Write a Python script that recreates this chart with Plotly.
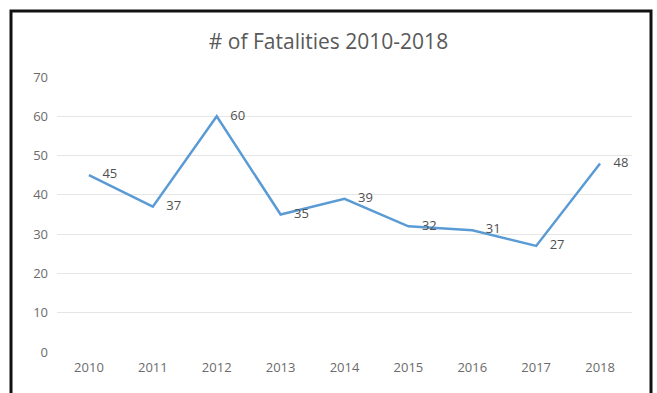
import plotly.graph_objects as go

years = ["2010", "2011", "2012", "2013", "2014", "2015", "2016", "2017", "2018"]
fatalities = [45, 37, 60, 35, 39, 32, 31, 27, 48]
y_ticks = [0, 10, 20, 30, 40, 50, 60, 70]

W, H = 657, 393
ml, mr, mt, mb = 57, 25, 77, 41
pw, ph = W - ml - mr, H - mt - mb

FONT = "Open Sans, Liberation Sans, sans-serif"

fig = go.Figure()
fig.add_trace(go.Scatter(
    x=list(range(len(years))), y=fatalities,
    mode="lines+markers+text",
    text=[str(v) for v in fatalities],
    textposition="middle right",
    textfont=dict(family=FONT, size=13, color="#505050"),
    line=dict(color="#5B9BD5", width=2.5),
    marker=dict(size=20, color="rgba(0,0,0,0)"),
    cliponaxis=False,
    hoverinfo="skip",
))

def px_x(p):
    return (p - ml) / pw

def px_y(p):
    return (H - mb - p) / ph

fig.add_shape(type="rect", xref="paper", yref="paper",
              x0=px_x(11), x1=px_x(651), y0=px_y(420), y1=px_y(11),
              line=dict(color="#111111", width=3), fillcolor="rgba(0,0,0,0)", layer="above")

fig.update_layout(
    width=W, height=H,
    margin=dict(l=ml, r=mr, t=mt, b=mb),
    paper_bgcolor="white", plot_bgcolor="white",
    showlegend=False,
    title=dict(text="# of Fatalities 2010-2018", x=0.5, xanchor="center",
               y=1 - 42 / H, yanchor="middle",
               font=dict(family=FONT, size=21, color="#595959")),
    xaxis=dict(range=[-0.5, len(years) - 0.5], tickmode="array",
               tickvals=list(range(len(years))), ticktext=years,
               showgrid=False, zeroline=False, showline=False, ticks="",
               tickfont=dict(family=FONT, size=13, color="#6b6b6b"),
               ticklabelstandoff=6),
    yaxis=dict(range=[0, 70], tickmode="array", tickvals=y_ticks,
               showgrid=True, gridcolor="#E6E6E6", gridwidth=1,
               zeroline=False, showline=False, ticks="",
               tickfont=dict(family=FONT, size=13, color="#6b6b6b"),
               ticklabelstandoff=8),
)

fig.write_html("out.html")
